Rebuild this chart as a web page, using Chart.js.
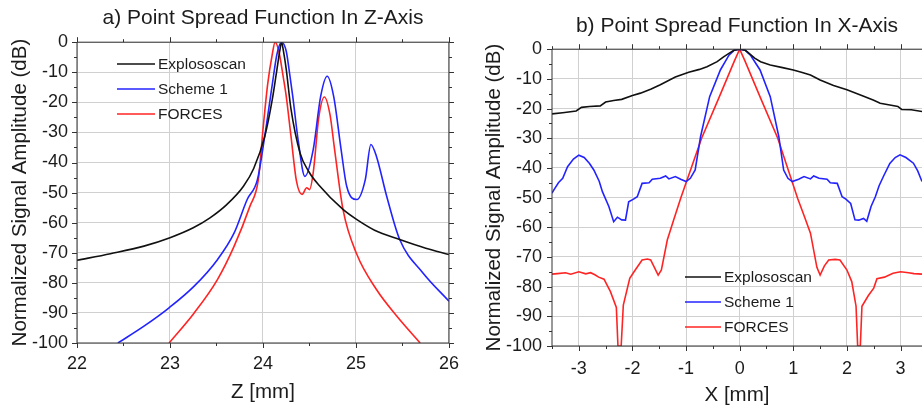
<!DOCTYPE html>
<html>
<head>
<meta charset="utf-8">
<script src="https://cdn.jsdelivr.net/npm/chart.js@4.4.1/dist/chart.umd.min.js"></script>
<style>
  html, body { margin: 0; padding: 0; background: #fff; }
  #wrap { position: relative; width: 922px; height: 409px; overflow: hidden; }
  .box { position: absolute; top: 0; height: 409px; }
</style>
</head>
<body>
<div id="wrap">
  <div class="box" style="left:0; width:469px;"><canvas id="chart-z"></canvas></div>
  <div class="box" style="left:460px; width:462px;"><canvas id="chart-x"></canvas></div>
</div>
<script>
// a) Z-axis point spread function (z in mm, amplitude in dB)
const zExploZ = [22.0, 22.36, 22.72, 23.0, 23.25, 23.43, 23.61, 23.79, 23.9, 24.02, 24.1, 24.15, 24.18, 24.2, 24.22, 24.25, 24.3, 24.4, 24.49, 24.6, 24.86, 25.01, 25.2, 25.47, 25.75, 26.0];
const zExploDb = [-72.5, -70.3, -67.8, -65, -61.7, -58.4, -54, -47.9, -42, -31.2, -19, -9, -3, 0, -3, -9, -22, -37, -42.9, -47.5, -55.6, -59, -62.5, -65.6, -68.5, -70.6];

const zScheme1Z = [22.44, 22.72, 22.99, 23.26, 23.51, 23.69, 23.83, 23.94, 24.02, 24.1, 24.15, 24.2, 24.25, 24.28, 24.32, 24.38, 24.45, 24.54, 24.62, 24.69, 24.76, 24.84, 24.9, 25.01, 25.1, 25.16, 25.22, 25.33, 25.47, 25.72, 26.0];
const zScheme1Db = [-100, -94.4, -88.3, -81.1, -72.3, -63.4, -52.3, -45.7, -31, -14, -4, 0, -3, -9, -18, -33, -44.6, -35.7, -18, -11.3, -18, -35.7, -47.9, -52.3, -45.7, -34, -38, -51.2, -65.6, -76.7, -86.1];

const zForcesZ = [22.99, 23.26, 23.51, 23.69, 23.86, 23.95, 24.0, 24.05, 24.1, 24.13, 24.17, 24.22, 24.25, 24.3, 24.36, 24.42, 24.47, 24.5, 24.54, 24.6, 24.66, 24.72, 24.77, 24.86, 25.01, 25.22, 25.44, 25.69];
const zForcesDb = [-100, -90, -78.9, -67.8, -54.5, -45.7, -29, -14, -4, 0, -3, -12, -18, -31, -46.2, -50.6, -48.4, -49, -43.4, -25, -18.2, -24, -35.7, -55.6, -70.6, -82.2, -91.1, -100];

// b) X-axis point spread function (x in mm, amplitude in dB)
const xExploX = [-3.5, -3.3, -3.05, -2.95, -2.8, -2.6, -2.5, -2.35, -2.2, -2.0, -1.85, -1.65, -1.48, -1.2, -0.95, -0.75, -0.61, -0.42, -0.3, -0.2, -0.1, 0, 0.1, 0.17, 0.28, 0.39, 0.57, 0.8, 1.0, 1.15, 1.32, 1.5, 1.75, 2.0, 2.3, 2.5, 2.62, 2.8, 2.95, 3.02, 3.2, 3.4, 3.5];
const xExploDb = [-21.8, -21.4, -20.8, -19.6, -19.3, -19.1, -17.8, -17.3, -16.9, -15.6, -14.8, -13.4, -12, -9.4, -7.8, -6.8, -5.9, -4.2, -2.6, -1.4, -0.3, 0, -0.3, -1.3, -3, -4.2, -5.3, -6.2, -7, -7.8, -8.7, -10.4, -12.2, -13.7, -15.8, -17.2, -18.2, -18.8, -19.3, -20.3, -20.4, -21, -21.4];

const xScheme1X = [-3.5, -3.45, -3.38, -3.3, -3.21, -3.1, -3.0, -2.9, -2.8, -2.72, -2.62, -2.56, -2.44, -2.35, -2.28, -2.2, -2.13, -2.07, -1.98, -1.91, -1.82, -1.69, -1.63, -1.48, -1.38, -1.32, -1.2, -1.1, -1.0, -0.92, -0.83, -0.73, -0.56, -0.36, -0.2, -0.1, 0, 0.1, 0.2, 0.38, 0.57, 0.73, 0.82, 0.9, 0.98, 1.1, 1.2, 1.32, 1.38, 1.48, 1.63, 1.69, 1.82, 1.91, 1.98, 2.07, 2.15, 2.22, 2.31, 2.37, 2.45, 2.53, 2.6, 2.68, 2.8, 2.9, 2.99, 3.1, 3.24, 3.32, 3.4, 3.5];
const xScheme1Db = [-48.5, -47, -45, -43.5, -39.6, -37, -35.7, -36.5, -38.5, -40.7, -44.5, -48, -53, -58.1, -56.6, -57.5, -57.6, -51.4, -50.5, -49.7, -45.2, -45, -43.8, -43.5, -42.7, -43.7, -42.9, -43.8, -44.6, -43.5, -40.7, -29.5, -16, -7, -2, -0.3, 0, -0.3, -2, -7, -16, -29.5, -40.7, -43.5, -44.6, -43.8, -42.9, -43.7, -42.7, -43.5, -43.8, -45, -45.2, -49.7, -50.5, -52, -57.5, -57.6, -57, -58, -53, -49.7, -46, -42.9, -38.5, -36.5, -35.6, -36.5, -38.4, -41, -44.6, -48.5];

const xForcesX = [-3.5, -3.4, -3.25, -3.15, -3.0, -2.87, -2.78, -2.7, -2.63, -2.53, -2.41, -2.3, -2.27, -2.21, -2.17, -2.05, -1.97, -1.82, -1.72, -1.66, -1.52, -1.46, -1.35, -1.23, -1.1, -0.71, -0.39, -0.1, 0, 0.1, 0.39, 0.71, 1.08, 1.2, 1.32, 1.44, 1.5, 1.58, 1.66, 1.78, 1.87, 2.0, 2.09, 2.17, 2.2, 2.25, 2.28, 2.4, 2.5, 2.56, 2.7, 2.86, 3.0, 3.15, 3.25, 3.4, 3.5];
const xForcesDb = [-75.8, -75.6, -75.3, -75.8, -75, -75.7, -75.3, -76, -76.8, -77.5, -81.7, -87, -100, -100, -86.2, -77.2, -75, -71, -70.7, -71, -76.1, -74.4, -64.3, -57.5, -50.2, -30, -16.5, -4, 0, -4, -16.5, -30, -50.2, -56, -62, -73.5, -76.1, -73, -71, -70.8, -71, -74.4, -78.3, -86.6, -100, -100, -86.6, -83, -80.5, -77.3, -76.8, -75.5, -75, -75.3, -75.6, -75.8, -75.8];

// tick labels
const zTicks = [22, 23, 24, 25, 26];
const xTicks = [-3, -2, -1, 0, 1, 2, 3];
const dbTicks = [0, -10, -20, -30, -40, -50, -60, -70, -80, -90, -100];

const seriesNames = ['Explososcan', 'Scheme 1', 'FORCES'];
const seriesColors = ['#111111', '#2323ff', '#ff2424'];

const FONT = '"Liberation Sans", Arial, sans-serif';
const TEXT_COLOR = '#1c1c1c';

function toPoints(xs, ys) {
    return xs.map((v, i) => ({ x: v, y: ys[i] }));
}

// frame around the plot area with outward major and minor ticks
const frameTicks = {
    id: 'frameTicks',
    afterDraw(chart, args, opts) {
        const { ctx, chartArea: a, scales } = chart;
        const xs = scales.x;
        const ys = scales.y;
        ctx.save();
        ctx.strokeStyle = '#333';
        ctx.lineWidth = 1;
        ctx.beginPath();
        ctx.moveTo(a.left, a.top);
        ctx.lineTo(a.left, a.bottom);
        ctx.lineTo(a.right, a.bottom);
        ctx.moveTo(a.left, a.top);
        ctx.lineTo(a.right, a.top);
        if (opts.rightSide) {
            ctx.moveTo(a.right, a.top);
            ctx.lineTo(a.right, a.bottom);
        }
        // x ticks, bottom and top
        const xStart = Math.ceil(xs.min / opts.xMinor - 1e-9);
        for (let i = xStart; i * opts.xMinor <= xs.max + 1e-9; i++) {
            const v = i * opts.xMinor;
            const major = Math.abs(v / opts.xMajor - Math.round(v / opts.xMajor)) < 1e-6;
            const len = major ? 5 : 3;
            const px = Math.round(xs.getPixelForValue(v)) + 0.5;
            ctx.moveTo(px, a.bottom);
            ctx.lineTo(px, a.bottom + len);
            ctx.moveTo(px, a.top);
            ctx.lineTo(px, a.top - len);
        }
        // y ticks, left and right
        const yStart = Math.ceil(ys.min / opts.yMinor - 1e-9);
        for (let i = yStart; i * opts.yMinor <= ys.max + 1e-9; i++) {
            const v = i * opts.yMinor;
            const major = Math.abs(v / opts.yMajor - Math.round(v / opts.yMajor)) < 1e-6;
            const len = major ? 5 : 3;
            const py = Math.round(ys.getPixelForValue(v)) + 0.5;
            ctx.moveTo(a.left, py);
            ctx.lineTo(a.left - len, py);
            if (opts.rightSide) {
                ctx.moveTo(a.right, py);
                ctx.lineTo(a.right + len, py);
            }
        }
        ctx.stroke();
        ctx.restore();
    }
};

// legend drawn inside the plot area
const innerLegend = {
    id: 'innerLegend',
    afterDraw(chart, args, opts) {
        const { ctx } = chart;
        ctx.save();
        ctx.font = opts.fontSize + 'px ' + FONT;
        ctx.textBaseline = 'middle';
        ctx.textAlign = 'left';
        chart.data.datasets.forEach((ds, i) => {
            const y = opts.y + i * opts.gap;
            ctx.strokeStyle = ds.borderColor;
            ctx.lineWidth = 1.6;
            ctx.beginPath();
            ctx.moveTo(opts.x, y);
            ctx.lineTo(opts.x + opts.lineLen, y);
            ctx.stroke();
            ctx.fillStyle = TEXT_COLOR;
            ctx.fillText(ds.label, opts.x + opts.lineLen + 3, y + 1);
        });
        ctx.restore();
    }
};

function makeChart(canvasId, cfg) {
    const datasets = cfg.series.map((pts, i) => ({
        label: seriesNames[i],
        data: pts,
        borderColor: seriesColors[i],
        backgroundColor: seriesColors[i],
        borderWidth: 1.6,
        pointRadius: 0,
        tension: 0,
        cubicInterpolationMode: cfg.smooth ? 'monotone' : 'default',
        fill: false
    }));

    return new Chart(document.getElementById(canvasId), {
        type: 'line',
        data: { datasets: datasets },
        options: {
            responsive: true,
            maintainAspectRatio: false,
            animation: false,
            layout: { padding: { left: 0, right: 0, top: 0, bottom: 0 } },
            plugins: {
                legend: { display: false },
                tooltip: { enabled: false },
                title: {
                    display: true,
                    fullSize: false,
                    text: cfg.title,
                    color: TEXT_COLOR,
                    font: { family: FONT, size: 21, weight: 'normal' },
                    padding: cfg.titlePad
                },
                frameTicks: cfg.frame,
                innerLegend: cfg.legend
            },
            scales: {
                x: {
                    type: 'linear',
                    min: cfg.xMin,
                    max: cfg.xMax,
                    afterBuildTicks: s => { s.ticks = cfg.xTicks.map(v => ({ value: v })); },
                    afterFit: s => { s.height = cfg.xAxisHeight; },
                    grid: { color: '#d0d0d0', lineWidth: 1, drawTicks: false },
                    border: { display: false },
                    ticks: {
                        color: TEXT_COLOR,
                        font: { family: FONT, size: 18 },
                        padding: cfg.xTickPad,
                        maxRotation: 0,
                        autoSkip: false
                    },
                    title: {
                        display: true,
                        text: cfg.xTitle,
                        color: TEXT_COLOR,
                        font: { family: FONT, size: 20.5 },
                        padding: { top: 0, bottom: cfg.xTitlePad }
                    }
                },
                y: {
                    type: 'linear',
                    min: -100,
                    max: 0,
                    afterBuildTicks: s => { s.ticks = dbTicks.map(v => ({ value: v })); },
                    afterFit: s => { s.width = cfg.yAxisWidth; },
                    grid: { color: '#d0d0d0', lineWidth: 1, drawTicks: false },
                    border: { display: false },
                    ticks: {
                        color: TEXT_COLOR,
                        font: { family: FONT, size: 18 },
                        padding: cfg.yTickPad,
                        autoSkip: false
                    },
                    title: {
                        display: true,
                        text: 'Normalized Signal Amplitude (dB)',
                        color: TEXT_COLOR,
                        font: { family: FONT, size: 20.5 },
                        padding: { top: cfg.yTitlePad, bottom: 0 }
                    }
                }
            }
        },
        plugins: [frameTicks, innerLegend]
    });
}

makeChart('chart-z', {
    title: 'a) Point Spread Function In Z-Axis',
    series: [toPoints(zExploZ, zExploDb), toPoints(zScheme1Z, zScheme1Db), toPoints(zForcesZ, zForcesDb)],
    smooth: true,
    xMin: 22, xMax: 26, xTicks: zTicks, xTitle: 'Z [mm]',
    titlePad: { top: 6, bottom: 11 },
    xAxisHeight: 66, xTickPad: 10, xTitlePad: 4,
    yAxisWidth: 77, yTickPad: 9, yTitlePad: 8,
    frame: { xMinor: 0.5, xMajor: 1, yMinor: 5, yMajor: 10, rightSide: true },
    legend: { x: 117, y: 64, gap: 25, lineLen: 38, fontSize: 15.5 }
});

makeChart('chart-x', {
    title: 'b) Point Spread Function In X-Axis',
    series: [toPoints(xExploX, xExploDb), toPoints(xScheme1X, xScheme1Db), toPoints(xForcesX, xForcesDb)],
    smooth: false,
    xMin: -3.5, xMax: 3.4, xTicks: xTicks, xTitle: 'X [mm]',
    titlePad: { top: 14, bottom: 10 },
    xAxisHeight: 63, xTickPad: 12, xTitlePad: 1,
    yAxisWidth: 92, yTickPad: 10, yTitlePad: 22,
    frame: { xMinor: 0.5, xMajor: 1, yMinor: 5, yMajor: 10, rightSide: false },
    legend: { x: 225, y: 277, gap: 25, lineLen: 36, fontSize: 15.5 }
});
</script>
</body>
</html>
